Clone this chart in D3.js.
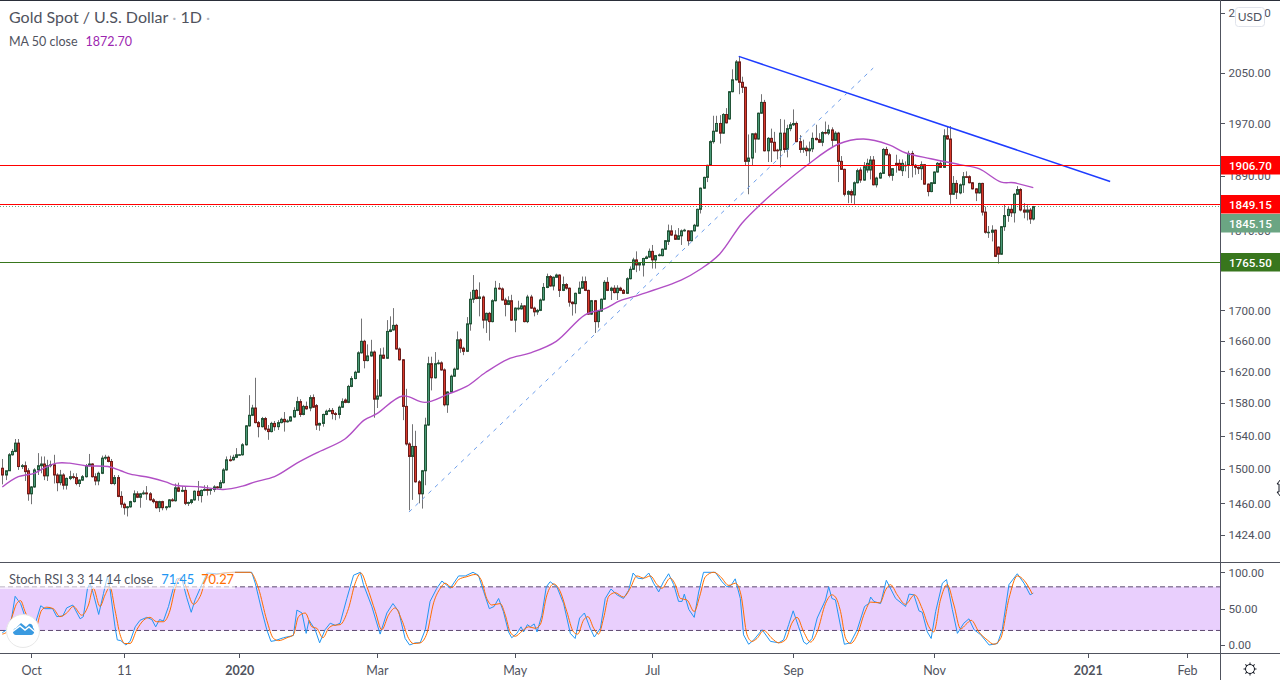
<!DOCTYPE html>
<html lang="en">
<head>
    <meta charset="UTF-8">
    <title>Gold Spot / U.S. Dollar</title>
    <style>
        html, body { margin: 0; padding: 0; background: #fff; overflow: hidden; }
        svg { display: block; font-family: "Lato", "Open Sans", sans-serif; }
        .axis text { fill: #50535e; font-size: 12.5px; font-family: "Lato", sans-serif; }
        .axis.price text { font-size: 11.6px; font-family: "Roboto", sans-serif; }
        .axis path, .axis line { stroke: #50535e; shape-rendering: crispEdges; }
    </style>
</head>
<body>
    <svg id="chart" width="1280" height="680"></svg>
    <script src="https://d3js.org/d3.v7.min.js"></script>
    <script>
        // daily candles
        const opens = [
            1501,1493,1498,1517,1521,1531,1503,1504,1498,1471,
            1479,1499,1504,1506,1492,1504,1505,1493,1484,1493,
            1481,1489,1491,1490,1483,1487,1491,1504,1506,1491,
            1486,1495,1513,1514,1509,1483,1490,1468,1459,1455,
            1456,1462,1471,1467,1471,1472,1471,1464,1462,1455,
            1462,1455,1456,1464,1463,1478,1474,1475,1460,1461,
            1464,1474,1469,1475,1476,1475,1476,1479,1478,1484,
            1499,1511,1511,1514,1517,1517,1529,1552,1565,1574,
            1556,1551,1561,1548,1545,1555,1551,1556,1560,1557,
            1558,1563,1571,1582,1566,1576,1574,1587,1577,1553,
            1555,1566,1570,1571,1567,1566,1575,1584,1581,1601,
            1611,1619,1644,1659,1634,1640,1645,1585,1589,1641,
            1637,1672,1674,1680,1649,1635,1576,1530,1515,1527,
            1485,1471,1498,1553,1630,1612,1630,1631,1622,1578,
            1594,1614,1623,1661,1650,1646,1682,1715,1727,1716,
            1718,1687,1696,1685,1713,1730,1729,1714,1708,1713,
            1687,1702,1702,1706,1685,1718,1703,1698,1700,1714,
            1731,1746,1733,1745,1748,1727,1735,1730,1711,1709,
            1723,1730,1739,1727,1695,1713,1685,1699,1715,1738,
            1727,1730,1724,1730,1727,1723,1743,1756,1769,1762,
            1762,1771,1773,1781,1769,1775,1775,1784,1795,1810,
            1804,1798,1803,1810,1810,1796,1810,1817,1841,1872,
            1888,1906,1942,1958,1970,1955,1984,1977,2020,2039,
            2068,2035,2027,1912,1917,1954,1946,1986,2003,1928,
            1947,1941,1929,1929,1955,1930,1962,1968,1970,1942,
            1930,1932,1928,1931,1947,1945,1941,1956,1955,1960,
            1944,1955,1912,1900,1863,1867,1862,1880,1899,1884,
            1899,1899,1914,1877,1887,1894,1930,1922,1891,1909,
            1909,1898,1906,1906,1924,1906,1903,1901,1907,1878,
            1867,1879,1896,1909,1903,1951,1946,1863,1879,1865,
            1877,1889,1889,1880,1871,1865,1879,1837,1808,1808,
            1811,1787,1777,1816,1832,1841,1836,1863,1870,1840,
            1837,1840,1827
        ];
        const highs = [
            1512,1498,1519,1524,1536,1536,1506,1509,1501,1480,
            1501,1519,1515,1515,1511,1510,1517,1495,1499,1495,
            1490,1498,1495,1495,1488,1493,1506,1518,1507,1495,
            1497,1516,1517,1516,1512,1493,1493,1474,1461,1457,
            1463,1475,1474,1472,1475,1480,1473,1466,1463,1463,
            1463,1457,1465,1466,1483,1484,1480,1480,1462,1465,
            1475,1486,1476,1481,1481,1477,1481,1480,1487,1501,
            1515,1516,1517,1525,1518,1531,1553,1590,1578,1612,
            1558,1563,1563,1553,1557,1558,1559,1562,1569,1560,
            1564,1575,1588,1585,1578,1582,1590,1591,1579,1556,
            1567,1572,1574,1574,1569,1577,1586,1586,1603,1614,
            1621,1646,1689,1661,1655,1661,1647,1610,1650,1651,
            1687,1692,1703,1682,1651,1636,1598,1532,1554,1546,
            1487,1499,1562,1639,1639,1645,1635,1633,1624,1595,
            1616,1625,1672,1663,1652,1691,1725,1748,1729,1738,
            1720,1697,1698,1715,1740,1737,1731,1717,1719,1721,
            1704,1713,1710,1707,1721,1721,1705,1702,1716,1737,
            1750,1748,1746,1750,1749,1746,1737,1731,1712,1724,
            1739,1746,1746,1728,1714,1714,1700,1716,1741,1745,
            1732,1734,1734,1732,1729,1745,1760,1772,1781,1765,
            1772,1775,1785,1790,1776,1778,1785,1797,1819,1818,
            1811,1814,1812,1813,1811,1811,1820,1842,1873,1889,
            1907,1944,1982,1982,1983,1986,1994,2021,2056,2071,
            2077,2044,2028,1953,1955,1956,1987,2016,2007,1949,
            1962,1957,1931,1977,1976,1968,1972,1992,1973,1952,
            1945,1936,1942,1956,1968,1955,1958,1973,1968,1964,
            1958,1957,1920,1901,1869,1870,1882,1901,1903,1911,
            1916,1920,1920,1889,1896,1932,1934,1925,1902,1922,
            1915,1915,1912,1928,1928,1908,1904,1912,1908,1879,
            1881,1897,1911,1912,1961,1966,1966,1890,1884,1879,
            1896,1897,1891,1881,1872,1880,1880,1845,1817,1818,
            1812,1788,1817,1848,1845,1848,1865,1875,1872,1850,
            1847,1843,1846
        ];
        const lows = [
            1482,1487,1498,1516,1520,1499,1500,1486,1463,1459,
            1478,1493,1495,1487,1486,1502,1483,1474,1481,1476,
            1476,1487,1488,1481,1479,1486,1490,1503,1490,1481,
            1481,1494,1511,1508,1482,1481,1467,1455,1447,1445,
            1455,1461,1466,1455,1470,1464,1463,1460,1454,1450,
            1452,1452,1455,1462,1462,1473,1473,1458,1457,1459,
            1463,1463,1461,1474,1469,1470,1473,1477,1477,1483,
            1498,1509,1510,1513,1516,1516,1528,1551,1564,1555,
            1538,1550,1546,1535,1544,1546,1547,1555,1545,1556,
            1557,1562,1570,1563,1565,1572,1570,1574,1547,1546,
            1551,1565,1569,1560,1559,1561,1574,1580,1580,1600,
            1610,1618,1643,1624,1633,1639,1562,1574,1588,1636,
            1636,1671,1673,1648,1634,1559,1528,1452,1464,1484,
            1460,1454,1481,1552,1596,1611,1629,1621,1576,1568,
            1593,1613,1622,1644,1641,1645,1673,1710,1715,1692,
            1676,1670,1660,1684,1712,1728,1713,1692,1707,1686,
            1671,1700,1701,1684,1683,1702,1692,1694,1699,1713,
            1730,1732,1727,1744,1718,1726,1728,1705,1693,1696,
            1722,1729,1726,1694,1694,1670,1677,1698,1714,1726,
            1714,1723,1714,1726,1722,1722,1742,1755,1752,1754,
            1746,1770,1772,1757,1757,1774,1774,1783,1790,1803,
            1797,1797,1790,1809,1789,1795,1809,1816,1835,1871,
            1881,1905,1939,1957,1939,1954,1970,1976,2019,2038,
            2016,2018,1906,1863,1905,1925,1945,1985,1927,1911,
            1911,1927,1915,1903,1925,1918,1958,1966,1941,1925,
            1925,1920,1910,1926,1944,1940,1935,1953,1952,1934,
            1943,1881,1899,1860,1850,1850,1848,1879,1880,1883,
            1895,1885,1876,1873,1886,1893,1921,1888,1883,1895,
            1898,1890,1897,1887,1888,1892,1893,1884,1877,1860,
            1866,1878,1895,1902,1902,1945,1849,1862,1856,1863,
            1865,1887,1879,1870,1853,1864,1832,1806,1800,1795,
            1773,1764,1776,1810,1823,1830,1822,1862,1838,1828,
            1825,1820,1825
        ];
        const closes = [
            1493,1498,1517,1521,1531,1503,1504,1497,1471,1479,
            1499,1504,1506,1492,1504,1505,1493,1484,1493,1481,
            1489,1491,1490,1483,1487,1491,1504,1506,1491,1486,
            1495,1513,1514,1509,1483,1490,1468,1459,1455,1456,
            1462,1471,1467,1471,1472,1471,1464,1462,1455,1462,
            1455,1456,1464,1463,1478,1474,1475,1460,1461,1464,
            1474,1469,1475,1476,1475,1476,1479,1478,1484,1499,
            1511,1510,1514,1517,1517,1529,1552,1565,1574,1556,
            1551,1561,1548,1545,1555,1551,1556,1560,1557,1558,
            1563,1571,1582,1566,1576,1573,1587,1575,1553,1555,
            1566,1570,1571,1567,1566,1575,1582,1581,1601,1611,
            1619,1644,1659,1634,1640,1645,1585,1589,1641,1637,
            1672,1674,1680,1649,1635,1576,1530,1515,1527,1485,
            1471,1498,1553,1630,1612,1630,1631,1622,1578,1594,
            1614,1623,1661,1650,1646,1682,1715,1727,1716,1718,
            1687,1696,1685,1713,1730,1729,1714,1708,1713,1687,
            1703,1703,1706,1685,1718,1703,1698,1700,1714,1731,
            1746,1733,1745,1748,1727,1735,1730,1711,1709,1723,
            1730,1739,1727,1695,1713,1685,1699,1715,1738,1727,
            1730,1724,1730,1727,1723,1743,1756,1769,1762,1764,
            1771,1773,1781,1769,1775,1776,1784,1796,1810,1804,
            1798,1803,1810,1811,1796,1810,1818,1841,1872,1888,
            1906,1942,1958,1970,1955,1984,1971,2020,2039,2068,
            2035,2027,1912,1917,1954,1946,1986,2003,1928,1947,
            1941,1928,1928,1955,1930,1962,1968,1970,1942,1930,
            1932,1928,1931,1947,1945,1941,1956,1955,1960,1944,
            1955,1912,1900,1863,1867,1862,1880,1898,1884,1904,
            1909,1914,1877,1887,1894,1930,1922,1891,1901,1907,
            1899,1909,1906,1924,1906,1903,1901,1907,1878,1867,
            1880,1896,1909,1903,1951,1946,1863,1879,1866,1877,
            1889,1888,1880,1871,1865,1879,1837,1808,1808,1811,
            1774,1777,1816,1832,1841,1836,1863,1870,1840,1837,
            1840,1827,1845
        ];

        // MA 50, read at a sample of bars
        const maBars = [0,5,10,13,17,21,26,33,37,40,46,51,54,62,69,75,79,85,92,98,107,113,117,125,132,139,145,151,158,165,173,182,188,193,199,212,218,224,231,237,243,251,261,269,277,282,290,299,305,312,316,322];
        const maValues = [1479,1491,1495,1501,1507,1507,1504,1503,1498,1494,1490,1485,1481,1479,1476,1480,1485,1491,1507,1519,1536,1559,1567,1589,1581,1591,1601,1619,1636,1644,1659,1694,1702,1713,1721,1741,1756,1777,1821,1849,1874,1905,1938,1946,1937,1925,1916,1907,1901,1881,1880,1872.7];

        // Stoch RSI %K
        const kBars = [
            0,1.4,2.9,4,5,5.7,7.1,9.7,12,13.3,15.7,17,18.9,20.1,22,24.3,25.3,26.6,27.4,28.4,30.1,31.6,32.8,33.6,35.2,35.9,37,38.6,39.9,41.5,
            43,45.1,46.7,47.9,49.1,50.3,51.9,53.4,54.5,56,57.6,59,60.2,61.8,63.9,67,72.2,77.9,79,81,82.6,83.9,85.2,87.8,90.9,92,93.6,94.9,95.8,97.7,
            99.1,100.8,102.4,104,105.5,107.6,109.7,111.8,112.8,115.4,118,120.1,122,123.8,125.8,127.2,129,130.5,132.1,133.6,135.7,137.3,139.9,142.5,144.6,147,148.7,150.3,152.1,153.6,
            155,156.5,158.1,159.1,160.7,162,162.8,164,164.9,166.1,167,168.5,169.9,171.1,173.2,175.3,177.4,178.9,180.3,181.8,183.6,184.9,186.8,188.3,190.1,192,194,195.6,197,198.4,
            200.1,201.9,203.4,205,206.5,208.1,209.7,211.2,212.3,213,214.4,216.1,217.5,219,222.7,224.8,226.3,227.6,228.9,230.5,231.5,233.1,234.7,237.3,239.9,242.5,244,245.6,247,248.7,
            250.3,251.3,252.9,254.5,257.1,258.1,259.1,260.2,261.8,263,264.9,267,269.3,270.6,271.2,272.2,274.3,276.1,279,282.1,283.2,284.7,286.3,287.3,288.9,290.1,291.5,293.6,294.9,296.7,
            298.3,300.3,301.9,303.5,305.6,308.2,310.8,312.3,314.4,317,319.1,321,322
        ];
        const kValues = [
            17,21,37,67,61,57,39,21,54,50,50,39,40,51,55,36,39,78,85,71,42,71,94,78,25,7,6,0,5,25,
            34,38,35,25,35,33,53,78,91,92,65,45,62,78,99,98,100,100,85,48,21,5,6,10,13,48,44,16,34,21,
            3,21,30,27,30,64,96,100,83,53,15,44,57,46,9,0,3,3,21,60,78,88,78,95,95,100,96,74,50,53,
            64,46,18,10,16,25,18,28,25,29,18,41,80,87,80,57,16,9,37,44,23,11,23,64,77,69,64,75,99,92,
            91,99,85,73,87,98,83,60,60,70,49,38,73,100,100,87,80,82,91,64,14,1,7,21,5,3,7,28,47,25,
            4,1,9,37,62,80,64,62,26,1,3,21,53,57,66,60,57,89,64,53,70,69,47,45,18,9,46,85,90,49,
            16,30,36,21,14,0,2,21,83,98,85,69,71.45
        ];
        // Stoch RSI %D
        const dBars = [
            0,1.4,2.9,4.5,5.7,7.1,10.2,12.3,13.9,15.9,18,20.1,22.2,24.8,26.9,28.4,30.5,32.1,33.6,35.2,36.8,38.3,39.9,42,44.1,46.1,48.2,50.3,52.4,54,
            55.5,57.1,59.7,61.8,63.9,67,72.2,77.4,80,82.6,84.7,86.3,88.9,90.9,92.5,94.6,96.7,98.2,100.1,101.9,103.4,105.5,108.1,110.2,112,113.9,116.5,118.5,120.6,122.7,
            124.8,126.9,128.4,130.5,132.6,134.7,136.8,138.3,140.4,142.5,145.1,147.7,149.5,151.3,152.9,155.5,157.1,158.6,160.2,162.3,164.4,166.4,168,170.1,172.2,174.3,176.3,178.4,179.7,181.5,
            182.9,184.7,186.2,187.8,189.4,191.4,194,196.1,198.2,200.3,202.4,204.5,206,208.6,210.2,211.8,213.8,216.1,217.8,219.6,222.2,224.3,226.9,229,230.7,232.6,234.1,235.7,237.8,240.4,
            242.5,244.6,246.6,248.2,250.3,252.4,254.5,257.1,259.1,260.2,261.8,263.4,264.9,267,269.3,271.2,274.1,275.9,277.4,279.5,282.1,284.9,287.3,289.4,290.9,293,295.1,297.2,299.3,300.9,
            302.6,305,307.6,309.7,311.8,314.4,317,319.1,321.7
        ];
        const dValues = [
            15,18,37,57,61,46,21,48,52,50,39,44,53,41,55,78,53,69,80,48,14,2,2,21,34,38,32,32,48,78,
            92,83,56,67,92,97,100,100,78,34,9,6,10,14,39,44,25,23,10,23,27,28,50,85,99,80,46,21,41,51,
            34,9,2,3,16,58,78,85,79,90,94,97,90,64,55,57,41,18,12,19,25,23,28,69,84,73,46,18,15,34,
            39,23,15,37,67,72,66,78,95,92,95,83,78,92,83,64,62,46,67,94,100,94,82,85,69,14,5,9,20,9,
            3,7,30,38,18,4,18,57,69,66,46,9,2,14,44,59,58,76,83,69,56,69,50,25,18,62,83,55,22,28,
            34,18,7,1,9,64,95,89,70.27
        ];

        const priceTicks = [2150,2050,1970,1890,1810,1700,1660,1620,1580,1540,1500,1460,1424];
        const stochTicks = [100,50,0];
        const timeTicks = [9,38,74,117,160,203,247,291,339,370];
        const timeLabels = ['Oct','11','2020','Mar','May','Jul','Sep','Nov','2021','Feb'];

        const trendLine = [[230,2077],[346,1882]];
        const channelLine = [[127,1450],[272,2058]];
        const levels = [1906.70,1849.15,1765.50];
        const levelColors = ['#ff0000','#ff0000','#38761d'];
        const lastPrice = 1845.15;

        const width = 1280, height = 680;
        const plotRight = 1220, paneBottom = 653.5, paneTop = 562.5;

        const svg = d3.select('#chart');
        const x = d3.scaleLinear().domain([0, 322]).range([2.33, 1033.3]);
        const y = d3.scaleLog().domain([2050, 1424]).range([73, 535]);
        const yStoch = d3.scaleLinear().domain([0, 100]).range([645, 572.3]);

        const defs = svg.append('defs');
        defs.append('clipPath').attr('id', 'mainClip').append('rect')
            .attr('width', plotRight).attr('height', paneTop);

        const main = svg.append('g').attr('clip-path', 'url(#mainClip)');

        // last price line
        main.append('line')
            .attr('x1', 0).attr('x2', plotRight)
            .attr('y1', Math.round(y(lastPrice)) + 0.5).attr('y2', Math.round(y(lastPrice)) + 0.5)
            .attr('stroke', '#6ba583').attr('stroke-dasharray', '1 2');

        // candles
        const candles = main.append('g');
        candles.selectAll('line')
            .data(opens)
            .enter().append('line')
            .attr('x1', (d, i) => Math.round(x(i)) + 0.5)
            .attr('x2', (d, i) => Math.round(x(i)) + 0.5)
            .attr('y1', (d, i) => y(highs[i]))
            .attr('y2', (d, i) => y(lows[i]))
            .attr('stroke', '#737375');
        candles.selectAll('rect')
            .data(opens)
            .enter().append('rect')
            .attr('x', (d, i) => Math.round(x(i)) - 0.5)
            .attr('width', 2)
            .attr('y', (d, i) => Math.min(y(d), y(closes[i])))
            .attr('height', (d, i) => Math.max(Math.abs(y(d) - y(closes[i])), 0.5))
            .attr('fill', (d, i) => closes[i] >= d ? '#4a9a78' : '#d8392b')
            .attr('stroke', (d, i) => closes[i] >= d ? '#225437' : '#6f1d1b');

        // moving average
        main.append('path')
            .attr('fill', 'none')
            .attr('stroke', '#b14fc5')
            .attr('stroke-width', 1.4)
            .attr('d', d3.line().curve(d3.curveCatmullRom.alpha(0.5))
                .x(i => x(maBars[i]))
                .y(i => y(maValues[i]))(d3.range(maBars.length)));

        // trend lines
        main.append('path')
            .attr('fill', 'none')
            .attr('stroke', '#1e3cff')
            .attr('stroke-width', 1.5)
            .attr('d', d3.line().x(d => x(d[0])).y(d => y(d[1]))(trendLine));
        main.append('path')
            .attr('fill', 'none')
            .attr('stroke', '#6d9eeb')
            .attr('stroke-dasharray', '4 5')
            .attr('d', d3.line().x(d => x(d[0])).y(d => y(d[1]))(channelLine));

        main.selectAll('line.level')
            .data(levels)
            .enter().append('line')
            .attr('class', 'level')
            .attr('x1', 0).attr('x2', plotRight)
            .attr('y1', d => Math.round(y(d)) + 0.5).attr('y2', d => Math.round(y(d)) + 0.5)
            .attr('stroke', (d, i) => levelColors[i]);

        // stoch pane
        svg.append('rect')
            .attr('x', 0).attr('width', plotRight)
            .attr('y', yStoch(80)).attr('height', yStoch(20) - yStoch(80))
            .attr('fill', '#e9cffd');
        svg.selectAll('line.band')
            .data([80, 20])
            .enter().append('line')
            .attr('class', 'band')
            .attr('x1', 0).attr('x2', plotRight)
            .attr('y1', d => yStoch(d)).attr('y2', d => yStoch(d))
            .attr('stroke', '#5d4a70').attr('stroke-dasharray', '5 3');

        svg.append('path')
            .attr('fill', 'none').attr('stroke', '#2196f3').attr('stroke-width', 1)
            .attr('d', d3.line()
                .x(i => x(kBars[i]))
                .y(i => yStoch(kValues[i]))(d3.range(kBars.length)));
        svg.append('path')
            .attr('fill', 'none').attr('stroke', '#ff6d00').attr('stroke-width', 1)
            .attr('d', d3.line().curve(d3.curveMonotoneX)
                .x(i => x(dBars[i]))
                .y(i => yStoch(dValues[i]))(d3.range(dBars.length)));

        // pane frames
        svg.append('line').attr('x1', 0).attr('x2', width).attr('y1', 0.5).attr('y2', 0.5).attr('stroke', '#2a2e39');
        svg.append('line').attr('x1', 0).attr('x2', width).attr('y1', paneTop).attr('y2', paneTop).attr('stroke', '#50535e');
        svg.append('line').attr('x1', 0).attr('x2', width).attr('y1', paneBottom).attr('y2', paneBottom).attr('stroke', '#50535e');

        // axes
        const priceAxis = svg.append('g').attr('class', 'axis price')
            .attr('transform', `translate(${plotRight + 0.5},0)`)
            .call(d3.axisRight(y).tickValues(priceTicks).tickSize(4).tickPadding(4).tickFormat(d3.format('.2f')));
        priceAxis.select('.domain').attr('d', `M0,0V${height}`);

        svg.append('g').attr('class', 'axis price')
            .attr('transform', `translate(${plotRight + 0.5},0)`)
            .call(d3.axisRight(yStoch).tickValues(stochTicks).tickSize(4).tickPadding(4).tickFormat(d3.format('.2f')))
            .select('.domain').remove();

        const timeAxis = svg.append('g').attr('class', 'axis')
            .attr('transform', `translate(0,${paneBottom})`)
            .call(d3.axisBottom(x).tickValues(timeTicks).tickSize(4).tickPadding(9)
                .tickFormat((d, i) => timeLabels[i]));
        timeAxis.select('.domain').remove();
        timeAxis.selectAll('text')
            .style('font-weight', d => (d === 74 || d === 339) ? 700 : 400);

        // price labels on the axis
        const priceLabels = [
            { value: 1906.70, top: 156, color: '#ff0000' },
            { value: 1849.15, top: 195, color: '#ff0000' },
            { value: 1845.15, top: 214, color: '#6ba583' },
            { value: 1765.50, top: 253, color: '#38761d' }
        ];
        const labelGroups = svg.selectAll('g.priceLabel')
            .data(priceLabels)
            .enter().append('g')
            .attr('class', 'priceLabel')
            .attr('transform', d => `translate(${plotRight + 1},${d.top})`);
        labelGroups.append('rect')
            .attr('width', width - plotRight - 1).attr('height', 18.5)
            .attr('fill', d => d.color);
        labelGroups.append('text')
            .attr('x', 8).attr('y', 13.5)
            .attr('fill', '#fff')
            .style('font-family', 'Roboto, sans-serif')
            .style('font-size', '11.6px').style('font-weight', 500)
            .text(d => d.value.toFixed(2));

        // USD button
        svg.append('rect')
            .attr('x', 1235.5).attr('y', 7.5).attr('width', 29).attr('height', 19).attr('rx', 3)
            .attr('fill', '#fff').attr('stroke', '#e0e3eb');
        svg.append('text')
            .attr('x', 1250).attr('y', 21).attr('text-anchor', 'middle')
            .attr('fill', '#50535e').style('font-size', '12px')
            .text('USD');

        // legends
        const title = svg.append('text')
            .attr('x', 9).attr('y', 23)
            .attr('fill', '#50535e').style('font-size', '16px');
        title.append('tspan').text('Gold Spot / U.S. Dollar');
        title.append('tspan').attr('dx', 4).attr('fill', '#b2b5be').text('·');
        title.append('tspan').attr('dx', 4).text('1D');
        title.append('tspan').attr('dx', 4).attr('fill', '#b2b5be').text('·');
        const maLegend = svg.append('text')
            .attr('x', 9).attr('y', 46)
            .attr('fill', '#50535e').style('font-size', '12.5px');
        maLegend.append('tspan').text('MA 50 close');
        maLegend.append('tspan').attr('dx', 8).attr('fill', '#9c27b0').text('1872.70');

        svg.append('rect')
            .attr('x', 0).attr('y', 571).attr('width', 235).attr('height', 18)
            .attr('fill', '#fff').attr('opacity', 0.6);
        const stochLegend = svg.append('text')
            .attr('x', 9).attr('y', 584)
            .attr('fill', '#50535e').style('font-size', '12.9px');
        stochLegend.append('tspan').text('Stoch RSI 3 3 14 14 close');
        stochLegend.append('tspan').attr('dx', 8).attr('fill', '#2196f3').text('71.45');
        stochLegend.append('tspan').attr('dx', 7).attr('fill', '#ff6d00').text('70.27');

        // logo
        const logo = svg.append('g').attr('transform', 'translate(23,631)');
        logo.append('circle').attr('r', 16.5).attr('fill', '#fff').attr('stroke', '#e8e8e8');
        logo.append('path')
            .attr('fill', '#3a9ae0')
            .attr('d', 'M-7,4C-11,4-11,-2-7,-3L-2,-8L3,-4L6,-7C9,-8 10,-5 10,-3C12,-2 12,4 8,4Z');
        logo.append('path')
            .attr('fill', 'none').attr('stroke', '#fff').attr('stroke-width', 1.5)
            .attr('d', 'M-11,1L-3,-5L2,-1L6,-4L12,1');

        // settings gear
        const gear = svg.append('g').attr('transform', 'translate(1250,669)')
            .attr('stroke', '#131722').attr('fill', 'none');
        gear.append('circle').attr('r', 4.5);
        gear.selectAll('line')
            .data(d3.range(8))
            .enter().append('line')
            .attr('y1', -4.5).attr('y2', -6.5)
            .attr('transform', d => `rotate(${d * 45})`);

        // cursor at the chart edge
        svg.append('path')
            .attr('fill', '#fff').attr('stroke', '#131722')
            .attr('d', 'M1281,479L1277,484L1279,484L1279,492L1277,492L1281,497');
    </script>
</body>
</html>
